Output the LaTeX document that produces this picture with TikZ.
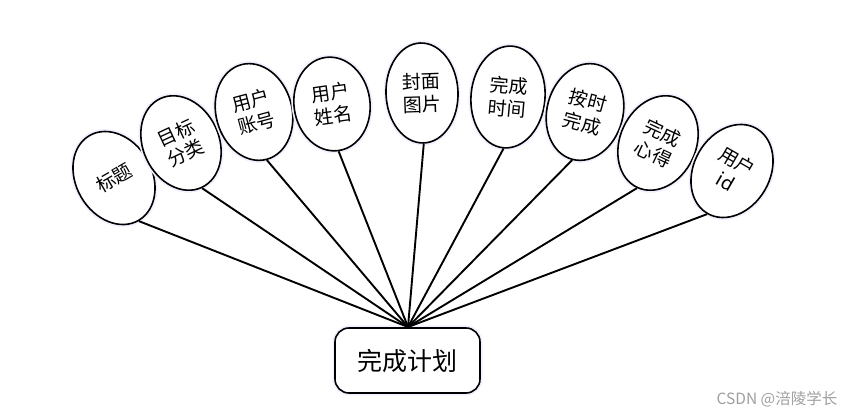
\documentclass[tikz,border=0pt]{standalone}
\usepackage{fontspec}
\setmainfont{Noto Sans CJK SC}
\usetikzlibrary{shapes.geometric}
\begin{document}
\begin{tikzpicture}[x=1pt,y=-1pt,
  halo/.style={preaction={draw=blue!6, line width=5pt}},
  attr/.style={ellipse, draw, line width=1.6pt, halo, fill=white,
    minimum width=76pt, minimum height=98pt, inner sep=0pt, align=center,
    font=\fontsize{19}{23}\selectfont},
  entity/.style={rectangle, rounded corners=14pt, draw, line width=1.6pt, halo, fill=white,
    minimum width=145pt, minimum height=65pt, inner sep=0pt,
    font=\fontsize{25}{28}\selectfont},
  link/.style={line width=1.9pt, black},
  wmark/.style={text=gray!75, font=\fontsize{15.5}{17}\selectfont, inner sep=0pt}
]
\useasboundingbox (0,0) rectangle (862,419);
\node[entity] (plan) at (407.5,360.5) {完成计划};
\coordinate (hub) at (408,327);
\node[attr, rotate=30] (a1) at (114,178) {标题};
\node[attr, rotate=25] (a2) at (181,143) {目标\\分类};
\node[attr, rotate=15] (a3) at (254,112) {用户\\账号};
\node[attr, rotate=8, minimum height=94pt] (a4) at (332,104) {用户\\姓名};
\node[attr, rotate=2, minimum width=72pt, minimum height=100pt] (a5) at (422,93) {封面\\图片};
\node[attr, rotate=-5, minimum width=74pt, minimum height=102pt] (a6) at (508,97) {完成\\时间};
\node[attr, rotate=-15] (a7) at (585,112) {按时\\完成};
\node[attr, rotate=-25] (a8) at (658,143) {完成\\心得};
\node[attr, rotate=-30] (a9) at (732,171) {用户\\id};
\foreach \i in {1,...,9} {
  \draw[link] (a\i.south) -- (hub);
}
\node[wmark] (wm) at (777,399) {CSDN @涪陵学长};
\end{tikzpicture}
\end{document}
